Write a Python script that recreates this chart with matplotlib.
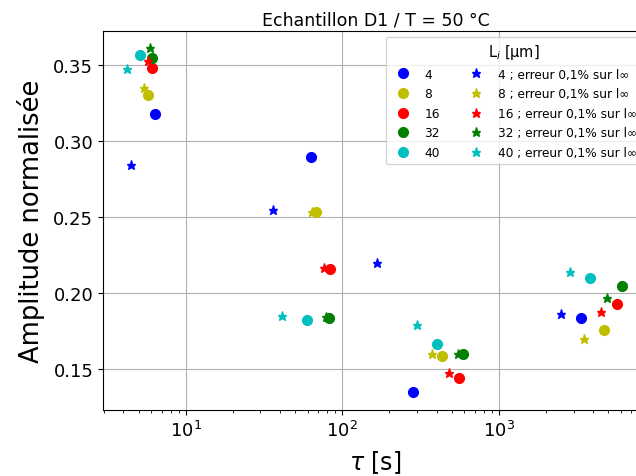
import numpy as np
import matplotlib
matplotlib.use('Agg')
import matplotlib.pyplot as plt

L = ['4', '8', '16', '32', '40']  # épaisseurs Li [µm]
couleurs = ['b', 'y', 'r', 'g', 'c']

# tau [s] et amplitude normalisée (cercles)
tau = [[6.34, 63, 283, 3360],
       [5.72, 67.8, 434, 4710],
       [6.06, 83.2, 554, 5700],
       [6.06, 82, 591, 6080],
       [5.08, 59.3, 402, 3800]]
amp = [[0.318, 0.2895, 0.1348, 0.1833],
       [0.330, 0.2533, 0.1583, 0.1756],
       [0.348, 0.2158, 0.1438, 0.1927],
       [0.3546, 0.1835, 0.160, 0.2044],
       [0.3566, 0.1822, 0.1664, 0.2099]]

# erreur 0,1% sur l_inf (étoiles)
tau_err = [[4.45, 36, 167, 2480],
           [5.4, 64, 375, 3510],
           [5.72, 76, 481, 4490],
           [5.89, 78.5, 545, 4920],
           [4.2, 41, 302, 2845]]
amp_err = [[0.284, 0.2546, 0.2195, 0.1862],
           [0.335, 0.2533, 0.160, 0.170],
           [0.3526, 0.2164, 0.1471, 0.1877],
           [0.3612, 0.184, 0.160, 0.1969],
           [0.3474, 0.1848, 0.1791, 0.2138]]

fig = plt.figure(figsize=(6.36, 4.77), dpi=100)
# l'axe déborde un peu à droite comme sur l'original
ax = fig.add_axes([103/636, 1-411/477, (648-103)/636, (411-32)/477])

for i in range(len(L)):
    ax.plot(tau[i], amp[i], 'o', color=couleurs[i], markersize=7, label=L[i])
for i in range(len(L)):
    ax.plot(tau_err[i], amp_err[i], '*', color=couleurs[i], markersize=6.5,
            label=L[i] + ' ; erreur 0,1% sur l\u221e')

ax.set_xscale('log')
ax.set_xlim(2.96, 8960)
ax.set_ylim(0.123, 0.3724)
ax.set_yticks([0.15, 0.20, 0.25, 0.30, 0.35])
ax.tick_params(labelsize=13)
ax.grid(True, which='major', color='#b0b0b0', linewidth=0.8)
ax.set_xlabel(r'$\tau$ [s]', fontsize=17, labelpad=6)
ax.set_ylabel('Amplitude normalisée', fontsize=18.5, labelpad=6)
ax.set_title('Echantillon D1 / T = 50 °C', fontsize=12.5, pad=5)
ax.legend(title='L$_i$ [µm]', ncol=2, loc='upper right', fontsize=8.7,
          title_fontsize=10.5, labelspacing=0.55)

fig.savefig('out.png', dpi=100)
